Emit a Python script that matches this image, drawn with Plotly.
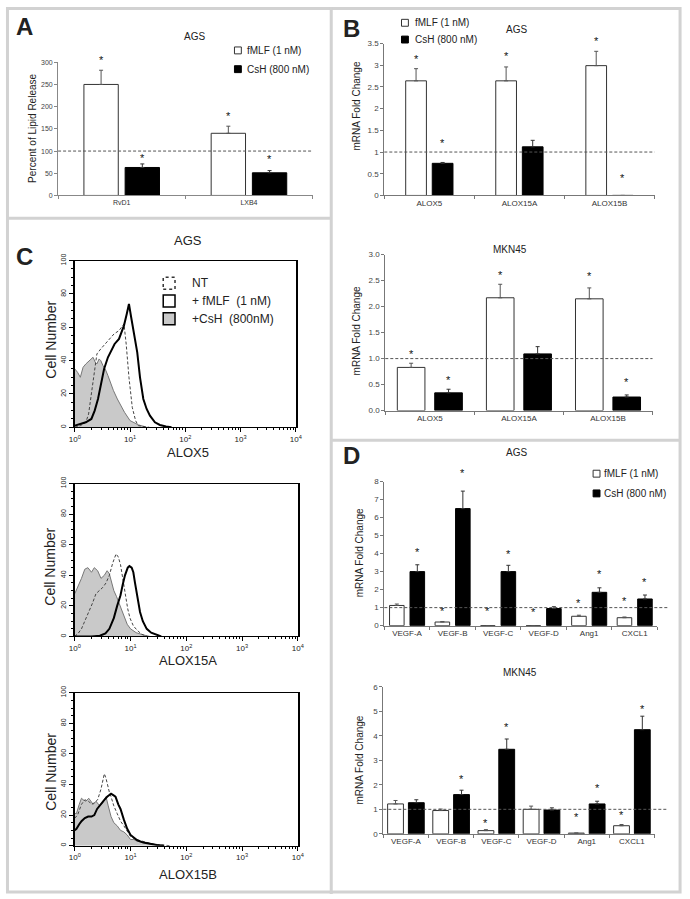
import plotly.graph_objects as go

W, H = 690, 899
FONT = "Liberation Sans, Arial, sans-serif"

# ---------------- Panel A data ----------------
A_cats = ["RvD1", "LXB4"]
A_fmlf = [250, 140]
A_fmlf_err = [32, 16]
A_csh = [63, 51]
A_csh_err = [8, 5]
A_fmlf_star = [304, 180]
A_csh_star = [84, 82]

# ---------------- Panel B data ----------------
B_cats = ["ALOX5", "ALOX15A", "ALOX15B"]
B1_fmlf = [2.64, 2.64, 2.99]
B1_fmlf_err = [0.28, 0.32, 0.33]
B1_csh = [0.74, 1.12, 0.0]
B1_csh_err = [0.02, 0.15, 0.0]
B1_fmlf_star = [3.15, 3.22, 3.55]
B1_csh_star = [1.2, None, 0.4]

B2_fmlf = [0.83, 2.17, 2.15]
B2_fmlf_err = [0.08, 0.26, 0.21]
B2_csh = [0.34, 1.09, 0.26]
B2_csh_err = [0.07, 0.14, 0.04]
B2_fmlf_star = [1.09, 2.61, 2.58]
B2_csh_star = [0.58, None, 0.55]

# ---------------- Panel D data ----------------
D_cats = ["VEGF-A", "VEGF-B", "VEGF-C", "VEGF-D", "Ang1", "CXCL1"]
D1_fmlf = [1.12, 0.2, 0.0, 0.0, 0.52, 0.44]
D1_fmlf_err = [0.08, 0.03, 0.0, 0.0, 0.06, 0.04]
D1_csh = [3.0, 6.5, 3.0, 0.95, 1.85, 1.48]
D1_csh_err = [0.38, 0.97, 0.35, 0.1, 0.25, 0.22]
D1_fmlf_star = [None, 0.84, 0.8, 0.75, 1.26, 1.39]
D1_csh_star = [4.1, 8.5, 4.0, None, 2.85, 2.4]

D2_fmlf = [1.22, 0.95, 0.13, 1.0, 0.03, 0.33]
D2_fmlf_err = [0.14, 0.06, 0.04, 0.13, 0.0, 0.05]
D2_csh = [1.27, 1.6, 3.45, 0.97, 1.22, 4.25]
D2_csh_err = [0.12, 0.18, 0.42, 0.09, 0.11, 0.55]
D2_fmlf_star = [None, None, 0.45, None, 0.7, 0.78]
D2_csh_star = [None, 2.24, 4.37, None, 1.86, 5.1]

# ---------------- Panel C histogram data (x = log10 fluorescence) ----------------
C1_csh_x = [0, 0.05, 0.1, 0.15, 0.2, 0.26, 0.3, 0.33, 0.37, 0.4, 0.44, 0.47, 0.51, 0.55, 0.6, 0.65, 0.7, 0.77, 0.85, 0.9, 1.0, 1.08, 1.15, 1.3]
C1_csh_y = [35, 33, 30, 36, 38, 40, 41, 42, 39, 38, 41, 40, 37, 35, 31, 26, 22, 17, 12, 9, 4, 2.5, 1.5, 0]
C1_nt_x = [0, 0.1, 0.2, 0.25, 0.3, 0.35, 0.4, 0.47, 0.55, 0.62, 0.71, 0.8, 0.86, 0.89, 0.93, 0.98, 1.04, 1.1, 1.15, 1.25, 1.35]
C1_nt_y = [0, 1, 3, 8, 20, 33, 44, 47, 50, 53, 56, 58, 61, 62, 50, 30, 12, 4, 1, 0.3, 0]
C1_fmlf_x = [0, 0.1, 0.2, 0.3, 0.36, 0.42, 0.48, 0.53, 0.6, 0.65, 0.72, 0.8, 0.86, 0.89, 0.94, 0.98, 1.02, 1.07, 1.13, 1.18, 1.24, 1.3, 1.36, 1.45, 1.54, 1.65, 1.75]
C1_fmlf_y = [1, 2, 3, 5, 10, 17, 28, 35, 42, 45, 50, 53, 58, 61, 68, 74, 66, 57, 45, 30, 17, 11, 7, 3, 1.4, 0.5, 0]

C2_csh_x = [0, 0.05, 0.12, 0.18, 0.235, 0.3, 0.35, 0.41, 0.47, 0.53, 0.58, 0.62, 0.66, 0.7, 0.75, 0.79, 0.84, 0.88, 0.94, 1.0, 1.1, 1.23, 1.35]
C2_csh_y = [28, 32, 38, 44, 45, 42, 45, 43, 38, 40, 43, 41, 35, 30, 26, 22, 18, 13, 8, 5, 2.5, 1, 0]
C2_nt_x = [0, 0.06, 0.12, 0.2, 0.27, 0.32, 0.38, 0.44, 0.5, 0.56, 0.62, 0.68, 0.74, 0.78, 0.82, 0.86, 0.9, 0.95, 0.99, 1.05, 1.12, 1.2, 1.3]
C2_nt_y = [0, 2, 5, 12, 17, 22, 28, 30, 32, 35, 40, 48, 54, 52, 47, 38, 28, 18, 12, 7, 4, 1.5, 0]
C2_fmlf_x = [0, 0.3, 0.45, 0.55, 0.62, 0.7, 0.76, 0.82, 0.86, 0.9, 0.95, 0.98, 1.02, 1.05, 1.08, 1.11, 1.14, 1.17, 1.22, 1.29, 1.37, 1.46, 1.55]
C2_fmlf_y = [0, 0, 0.5, 2, 5, 12, 20, 27, 34, 40, 45, 46, 45, 42, 35, 29, 22, 16, 10, 5, 2.5, 1, 0]

C3_csh_x = [0, 0.03, 0.08, 0.12, 0.15, 0.2, 0.25, 0.29, 0.33, 0.38, 0.41, 0.45, 0.5, 0.53, 0.56, 0.6, 0.65, 0.7, 0.76, 0.82, 0.88, 0.94, 1.0, 1.06, 1.12, 1.23, 1.35, 1.47, 1.6]
C3_csh_y = [21, 21, 27, 31, 30, 29, 31, 29, 27, 29, 28, 26, 28, 30, 32, 26, 19, 15, 13, 10, 9, 7, 4, 4, 3, 2, 1, 0.5, 0]
C3_nt_x = [0, 0.05, 0.12, 0.18, 0.25, 0.3, 0.35, 0.41, 0.47, 0.5, 0.53, 0.56, 0.59, 0.62, 0.65, 0.7, 0.76, 0.82, 0.88, 0.94, 1.0, 1.1, 1.2, 1.3, 1.41, 1.55, 1.7]
C3_nt_y = [18, 20, 27, 30, 29, 27, 28, 30, 37, 42, 47, 44, 39, 35, 32, 26, 21, 16, 13, 9, 6, 4, 3, 2, 1, 0.5, 0]
C3_fmlf_x = [0, 0.03, 0.08, 0.12, 0.18, 0.24, 0.3, 0.35, 0.4, 0.44, 0.5, 0.53, 0.58, 0.62, 0.65, 0.69, 0.73, 0.78, 0.82, 0.88, 0.94, 1.0, 1.06, 1.12, 1.23, 1.35, 1.47, 1.6]
C3_fmlf_y = [10, 11, 14, 16, 18, 19, 19, 20, 24, 26, 29, 30, 32, 33, 34, 33, 32, 27, 24, 17, 11, 7, 5, 3.5, 2, 1, 0.5, 0]

C_titles = ["ALOX5", "ALOX15A", "ALOX15B"]
C_decades = [0, 1, 2, 3, 4]

fig = go.Figure()
layout = dict(width=W, height=H, margin=dict(l=0, r=0, t=0, b=0),
              paper_bgcolor="white", plot_bgcolor="rgba(0,0,0,0)",
              showlegend=False, barmode="overlay",
              font=dict(family=FONT, color="#222"))
annotations = []
shapes = []


def xdom(a, b):
    return [a / W, b / W]


def ydom(top, bottom):
    return [1 - bottom / H, 1 - top / H]


def ann(text, px, py, size, angle=0, bold=False, color="#222", xanchor="center"):
    if bold:
        text = "<b>" + text + "</b>"
    annotations.append(dict(text=text, x=px / W, y=1 - py / H, xref="paper", yref="paper",
                            showarrow=False, textangle=angle, xanchor=xanchor, yanchor="middle",
                            font=dict(size=size, family=FONT, color=color)))


def legend_box(px, py, fill, sq=7, line="#333", dash=None, lw=1):
    shapes.append(dict(type="rect", xref="paper", yref="paper",
                       x0=(px - sq / 2) / W, x1=(px + sq / 2) / W,
                       y0=1 - (py + sq / 2) / H, y1=1 - (py - sq / 2) / H,
                       fillcolor=fill, line=dict(color=line, width=lw, dash=dash)))


def bar_panel(n, cats, fv, fe, cv, ce, fs, cs, xd, yd, yr, dtick, w, gap, ref_line,
              tickfmt=None, tsize=8, csize=8, axcol="#777", dash_x1=1.0):
    xa = "x" if n == 1 else "x%d" % n
    ya = "y" if n == 1 else "y%d" % n
    idx = list(range(len(cats)))
    f_off = -(w + gap / 2)
    c_off = gap / 2
    fig.add_trace(go.Bar(x=idx, y=fv, width=w, offset=f_off, xaxis=xa, yaxis=ya,
                         marker=dict(color="white", line=dict(color="#333", width=1)),
                         error_y=dict(type="data", symmetric=False, array=fe,
                                      arrayminus=[0] * len(fe), color="#555",
                                      thickness=1, width=2)))
    fig.add_trace(go.Bar(x=idx, y=cv, width=w, offset=c_off, xaxis=xa, yaxis=ya,
                         marker=dict(color="black", line=dict(color="black", width=1)),
                         error_y=dict(type="data", symmetric=False, array=ce,
                                      arrayminus=[0] * len(ce), color="#333",
                                      thickness=1, width=2)))
    span = yr[1] - yr[0]
    for vals, off in ((fs, f_off), (cs, c_off)):
        for i, s in enumerate(vals):
            if s is not None:
                annotations.append(dict(text="*", x=i + off + w / 2, y=(s - yr[0]) / span,
                                        xref=xa, yref=ya + " domain",
                                        showarrow=False, yanchor="middle",
                                        font=dict(size=11, color="#111", family=FONT)))
    key = "xaxis" if n == 1 else "xaxis%d" % n
    ykey = "yaxis" if n == 1 else "yaxis%d" % n
    layout[key] = dict(domain=xd, anchor=ya,
                       range=[-0.5, len(cats) - 0.5], tickmode="array",
                       tickvals=idx, ticktext=cats, ticks="",
                       tickfont=dict(size=csize, color="#333"),
                       showline=True, linecolor=axcol, linewidth=1,
                       showgrid=False, zeroline=False,
                       minor=dict(tick0=-0.5, dtick=1, ticks="outside", ticklen=3,
                                  tickcolor=axcol, showgrid=False))
    layout[ykey] = dict(domain=yd, anchor=xa, range=yr, dtick=dtick, tick0=0,
                        ticks="outside", ticklen=3, tickcolor=axcol,
                        tickfont=dict(size=tsize, color="#444"),
                        showline=True, linecolor=axcol, linewidth=1,
                        showgrid=False, zeroline=False)
    if tickfmt:
        layout[ykey]["tickformat"] = tickfmt
    shapes.append(dict(type="line", xref=xa + " domain", yref=ya, x0=0, x1=dash_x1,
                       y0=ref_line, y1=ref_line,
                       line=dict(color="#555", width=1, dash="3px,2px")))


# Panel A
bar_panel(1, A_cats, A_fmlf, A_fmlf_err, A_csh, A_csh_err, A_fmlf_star, A_csh_star,
          xdom(53, 312), ydom(56, 191), [0, 300], 50, 0.27, 0.054, 100,
          tsize=7, csize=7, axcol="#888")
ann("AGS", 192, 30, 10)
ann("Percent of Lipid Release", 27, 123, 10, angle=-90)
legend_box(236, 44, "white")
ann("fMLF (1 nM)", 243, 44, 10, xanchor="left")
legend_box(236, 63, "black", line="black")
ann("CsH (800 nM)", 243, 63, 10, xanchor="left")
ann("A", 19, 20, 24, bold=True)

# Panel B top
bar_panel(2, B_cats, B1_fmlf, B1_fmlf_err, B1_csh, B1_csh_err, B1_fmlf_star, B1_csh_star,
          xdom(385, 660), ydom(37, 191), [0, 3.5], 0.5, 0.23, 0.065, 1)
ann("AGS", 520, 23, 10)
ann("mRNA Fold Change", 357, 100, 10, angle=-90)
legend_box(406, 16, "white")
ann("fMLF (1 nM)", 414, 16, 10, xanchor="left")
legend_box(406, 33, "black", line="black")
ann("CsH (800 nM)", 414, 33, 10, xanchor="left")
ann("B", 352, 22, 24, bold=True)

# Panel B bottom
bar_panel(3, B_cats, B2_fmlf, B2_fmlf_err, B2_csh, B2_csh_err, B2_fmlf_star, B2_csh_star,
          xdom(386, 658), ydom(251, 409), [0, 3.0], 0.5, 0.31, 0.11, 1, tickfmt=".1f")
ann("MKN45", 513, 246, 10)
ann("mRNA Fold Change", 357, 328, 10, angle=-90)

# Panel D top
bar_panel(4, D_cats, D1_fmlf, D1_fmlf_err, D1_csh, D1_csh_err, D1_fmlf_star, D1_csh_star,
          xdom(385, 663), ydom(481, 627), [0, 8], 1, 0.32, 0.13, 1, dash_x1=1.04)
ann("AGS", 520, 452, 10)
ann("mRNA Fold Change", 360, 553, 10, angle=-90)
legend_box(601, 473, "white")
ann("fMLF (1 nM)", 607, 473, 10, xanchor="left")
legend_box(601, 493, "black", line="black")
ann("CsH (800 nM)", 607, 493, 10, xanchor="left")
ann("D", 352, 455, 24, bold=True)

# Panel D bottom
bar_panel(5, D_cats, D2_fmlf, D2_fmlf_err, D2_csh, D2_csh_err, D2_fmlf_star, D2_csh_star,
          xdom(384, 660), ydom(689, 838), [0, 6], 1, 0.35, 0.11, 1, dash_x1=1.05)
ann("MKN45", 523, 675, 10)
ann("mRNA Fold Change", 360, 763, 10, angle=-90)

# Panel C histograms
C_sets = [
    (C1_csh_x, C1_csh_y, C1_nt_x, C1_nt_y, C1_fmlf_x, C1_fmlf_y, xdom(70, 295), ydom(257, 426), 337, 452),
    (C2_csh_x, C2_csh_y, C2_nt_x, C2_nt_y, C2_fmlf_x, C2_fmlf_y, xdom(70, 297), ydom(483, 638), 567, 662),
    (C3_csh_x, C3_csh_y, C3_nt_x, C3_nt_y, C3_fmlf_x, C3_fmlf_y, xdom(70, 297), ydom(695, 850), 775, 879),
]
minor_vals = [m * 10 ** d for d in range(4) for m in range(2, 10)]
for k, (gx, gy, nx, ny, fx, fy, xd, yd, ylab_y, xlab_y) in enumerate(C_sets):
    n = 6 + k
    xa, ya = "x%d" % n, "y%d" % n
    fig.add_trace(go.Scatter(x=[10 ** v for v in gx], y=gy, mode="lines", fill="tozeroy",
                             fillcolor="#c9c9c9", line=dict(color="#777", width=1),
                             xaxis=xa, yaxis=ya))
    fig.add_trace(go.Scatter(x=[10 ** v for v in nx], y=ny, mode="lines",
                             line=dict(color="#444", width=1, dash="3px,2px"),
                             xaxis=xa, yaxis=ya))
    fig.add_trace(go.Scatter(x=[10 ** v for v in fx], y=fy, mode="lines",
                             line=dict(color="black", width=2),
                             xaxis=xa, yaxis=ya))
    layout["xaxis%d" % n] = dict(domain=xd, anchor=ya, type="log", range=[0, 4],
                                 tickmode="array", tickvals=[10 ** d for d in C_decades],
                                 ticktext=["10<sup>%d</sup>" % d for d in C_decades],
                                 ticks="outside", ticklen=4, tickcolor="black",
                                 tickfont=dict(size=8, color="#222"),
                                 showline=True, linecolor="black", linewidth=1, mirror=True,
                                 showgrid=False, zeroline=False,
                                 minor=dict(tickmode="array", tickvals=minor_vals,
                                            ticks="outside", ticklen=2, tickcolor="black"))
    layout["yaxis%d" % n] = dict(domain=yd, anchor=xa, range=[0, 100], dtick=20, tick0=0,
                                 ticks="outside", ticklen=4, tickcolor="black",
                                 tickangle=-90, tickfont=dict(size=7, color="#222"),
                                 showline=True, linecolor="black", linewidth=2, mirror=True,
                                 showgrid=False, zeroline=False,
                                 minor=dict(dtick=5, ticks="outside", ticklen=2, tickcolor="black"))
    ann("Cell Number", 45, ylab_y, 14, angle=-90)
    ann(C_titles[k], 185, xlab_y, 13)

ann("AGS", 185, 237, 13)
ann("C", 19, 253, 24, bold=True)
legend_box(166, 280, "white", sq=12, line="#333", dash="dot", lw=1.5)
ann("NT", 187, 280, 12, xanchor="left")
legend_box(166, 298, "white", sq=12, line="black", lw=1.5)
ann("+ fMLF  (1 nM)", 187, 298, 12, xanchor="left")
legend_box(166, 316, "#c9c9c9", sq=12, line="black", lw=1.5)
ann("+CsH  (800nM)", 187, 316, 12, xanchor="left")

# Panel frames
BC = "#d2d2d2"
shapes.append(dict(type="rect", xref="paper", yref="paper", x0=1.5 / W, x1=686 / W,
                   y0=1 - 897 / H, y1=1 - 1.5 / H, line=dict(color=BC, width=3)))
shapes.append(dict(type="line", xref="paper", yref="paper", x0=331 / W, x1=331 / W,
                   y0=0, y1=1, line=dict(color=BC, width=3)))
shapes.append(dict(type="line", xref="paper", yref="paper", x0=0, x1=331 / W,
                   y0=1 - 214 / H, y1=1 - 214 / H, line=dict(color=BC, width=3)))
shapes.append(dict(type="line", xref="paper", yref="paper", x0=331 / W, x1=686 / W,
                   y0=1 - 439 / H, y1=1 - 439 / H, line=dict(color=BC, width=3)))

layout["annotations"] = annotations
layout["shapes"] = shapes
fig.update_layout(**layout)
fig.write_html("out.html", config={"displayModeBar": False},
               post_script="document.body.style.margin='0';document.body.style.padding='0';")
